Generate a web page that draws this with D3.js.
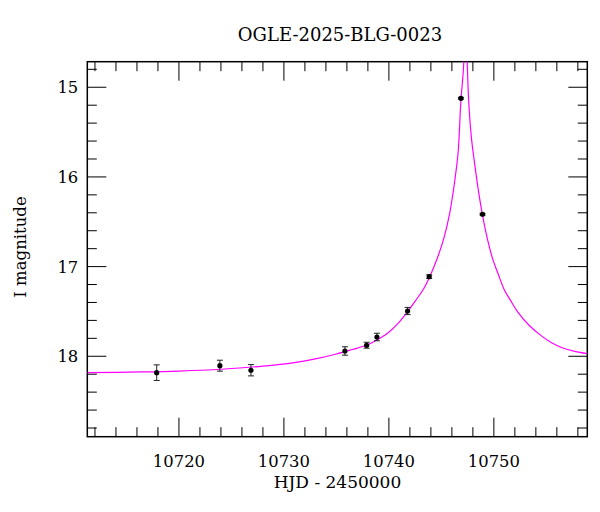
<!DOCTYPE html>
<html>
<head>
<meta charset="utf-8">
<script src="https://cdn.jsdelivr.net/npm/d3@7"></script>
<style>
  body { margin: 0; background: #fff; }
  text { font-family: "DejaVu Serif", serif; fill: #000; }
</style>
</head>
<body>
<script>
// photometry
var hjd  = [10717.88, 10723.90, 10726.86, 10735.81, 10737.88, 10738.86, 10741.78, 10743.84, 10746.86, 10748.92];
var imag = [18.183, 18.105, 18.156, 17.941, 17.877, 17.785, 17.495, 17.112, 15.123, 16.416];
var ierr = [0.087, 0.061, 0.063, 0.047, 0.033, 0.042, 0.040, 0.020, 0.010, 0.010];

// model curve, sampled by eye
var modelT = [10711.27, 10716.3, 10720.0, 10724.0, 10728.0, 10731.0, 10733.0, 10735.0, 10736.5, 10737.9,
              10738.9, 10739.9, 10740.9, 10741.8, 10742.6, 10743.3, 10743.9, 10744.6, 10745.2, 10745.8,
              10746.3, 10746.6, 10746.86, 10747.1, 10747.32,
              10747.46, 10747.6, 10747.85, 10748.12, 10748.5, 10748.9, 10749.4, 10749.9, 10750.4, 10751.0,
              10751.6, 10752.3, 10753.4, 10754.5, 10755.5, 10756.5, 10757.7, 10758.9];
var modelM = [18.183, 18.175, 18.165, 18.145, 18.11, 18.07, 18.03, 17.975, 17.925, 17.875,
              17.815, 17.74, 17.63, 17.50, 17.37, 17.25, 17.11, 16.91, 16.70, 16.40,
              16.02, 15.72, 15.15, 14.80, 14.25,
              14.72, 15.15, 15.55, 15.81, 16.13, 16.416, 16.70, 16.92, 17.08, 17.26,
              17.38, 17.51, 17.66, 17.77, 17.85, 17.905, 17.945, 17.97];

var xTicks = [10720, 10730, 10740, 10750];
var yTicks = [15, 16, 17, 18];

var margin = {top: 61.7, right: 12.7, bottom: 75.3, left: 87.3},
    width = 600 - margin.left - margin.right,
    height = 512 - margin.top - margin.bottom;

var x = d3.scaleLinear().domain([10711.27, 10758.9]).range([0, width]);
var y = d3.scaleLinear().domain([14.715, 18.897]).range([0, height]);

var svg = d3.select("body").append("svg")
    .attr("width", 600)
    .attr("height", 512);

var g = svg.append("g")
    .attr("transform", "translate(" + margin.left + "," + margin.top + ")");

svg.append("defs").append("clipPath").attr("id", "clip")
  .append("rect").attr("width", width).attr("height", height);

// inward ticks on all four sides
var xMinor = d3.range(10712, 10759, 2).filter((d) => d % 10 != 0);
var yMinor = d3.range(14.8, 18.9, 0.2).filter((d) => Math.abs(d - Math.round(d)) > 0.01);

function tickLines(vals, len, horiz) {
  vals.forEach(function(v) {
    if (horiz) {
      var px = x(v);
      g.append("line").attr("x1", px).attr("x2", px).attr("y1", height).attr("y2", height - len);
      g.append("line").attr("x1", px).attr("x2", px).attr("y1", 0).attr("y2", len);
    } else {
      var py = y(v);
      g.append("line").attr("y1", py).attr("y2", py).attr("x1", 0).attr("x2", len);
      g.append("line").attr("y1", py).attr("y2", py).attr("x1", width).attr("x2", width - len);
    }
  });
}
tickLines(xTicks, 19, true);
tickLines(xMinor, 9.5, true);
tickLines(yTicks, 19, false);
tickLines(yMinor, 9.5, false);
g.selectAll("line").attr("stroke", "#000").attr("stroke-width", 1);

g.append("rect")
    .attr("width", width).attr("height", height)
    .attr("fill", "none").attr("stroke", "#000").attr("stroke-width", 1.5);

g.selectAll(".xl").data(xTicks)
  .enter().append("text")
    .attr("x", (d) => x(d))
    .attr("y", height + 30)
    .attr("text-anchor", "middle")
    .style("font-size", "16.4px")
    .text((d) => d);

g.selectAll(".yl").data(yTicks)
  .enter().append("text")
    .attr("x", -9)
    .attr("y", (d) => y(d) + 6)
    .attr("text-anchor", "end")
    .style("font-size", "16.4px")
    .text((d) => d);

// model
var line = d3.line()
    .x((d, i) => x(modelT[i]))
    .y((d, i) => y(modelM[i]))
    .curve(d3.curveCatmullRom.alpha(0.5));

g.append("path")
    .datum(modelT)
    .attr("clip-path", "url(#clip)")
    .attr("d", line)
    .attr("fill", "none")
    .attr("stroke", "#ff00ff")
    .attr("stroke-width", 1.2);

// error bars + points
var pts = g.selectAll(".pt").data(hjd)
  .enter().append("g")
    .attr("class", "pt");

pts.append("line")
    .attr("x1", (d) => x(d)).attr("x2", (d) => x(d))
    .attr("y1", (d, i) => y(imag[i] - ierr[i]))
    .attr("y2", (d, i) => y(imag[i] + ierr[i]));
pts.append("line")
    .attr("x1", (d) => x(d) - 3).attr("x2", (d) => x(d) + 3)
    .attr("y1", (d, i) => y(imag[i] - ierr[i]))
    .attr("y2", (d, i) => y(imag[i] - ierr[i]));
pts.append("line")
    .attr("x1", (d) => x(d) - 3).attr("x2", (d) => x(d) + 3)
    .attr("y1", (d, i) => y(imag[i] + ierr[i]))
    .attr("y2", (d, i) => y(imag[i] + ierr[i]));
pts.selectAll("line").attr("stroke", "#222").attr("stroke-width", 1);

pts.append("circle")
    .attr("cx", (d) => x(d))
    .attr("cy", (d, i) => y(imag[i]))
    .attr("r", 2.6)
    .attr("fill", "#000");

svg.append("text")
    .attr("x", 340).attr("y", 41)
    .attr("text-anchor", "middle")
    .style("font-size", "18px")
    .text("OGLE-2025-BLG-0023");

svg.append("text")
    .attr("x", 337.5).attr("y", 488)
    .attr("text-anchor", "middle")
    .style("font-size", "17px")
    .text("HJD - 2450000");

svg.append("text")
    .attr("transform", "translate(26,247) rotate(-90)")
    .attr("text-anchor", "middle")
    .style("font-size", "16.5px")
    .text("I magnitude");
</script>
</body>
</html>
